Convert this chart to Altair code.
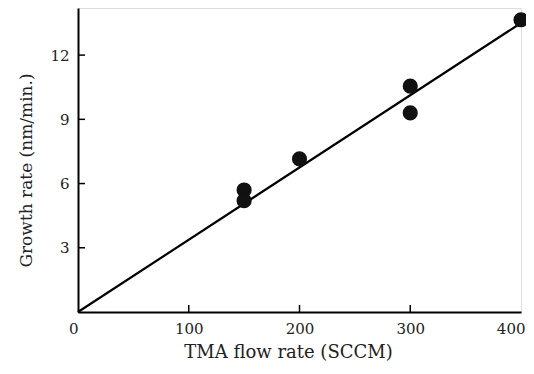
import altair as alt
import pandas as pd

# Data
flow = [150, 150, 200, 300, 300, 400]
growth = [5.7, 5.2, 7.15, 10.55, 9.3, 13.65]

fit_x = [0, 400]
fit_y = [0, 13.5]

x_ticks = [0, 100, 200, 300, 400]
y_ticks = [3, 6, 9, 12]

pts = pd.DataFrame({"flow": flow, "growth": growth})
fit = pd.DataFrame({"flow": fit_x, "growth": fit_y})
xt = pd.DataFrame({"v": [100, 200, 300]})
yt = pd.DataFrame({"v": y_ticks})

W, H = 443, 304
FONT = "DejaVu Serif"

xscale = alt.Scale(domain=[0, 400], nice=False)
yscale = alt.Scale(domain=[0, 14.2], nice=False)

xaxis = alt.Axis(
    values=x_ticks, ticks=False, grid=False, domainColor="black", domainWidth=2,
    labelFont=FONT, labelFontSize=15, labelColor="#222", labelPadding=9,
    labelAlign=alt.ExprRef("datum.value == 0 || datum.value == 400 ? 'right' : 'center'"),
    labelOffset=alt.ExprRef("datum.value == 400 ? 4 : 0"),
    title="TMA flow rate (SCCM)", titleFont=FONT, titleFontSize=18,
    titleFontWeight="normal", titleColor="#222", titlePadding=7, titleX=210,
)
yaxis = alt.Axis(
    values=y_ticks, ticks=False, grid=False, domainColor="black", domainWidth=2,
    labelFont=FONT, labelFontSize=15, labelColor="#222", labelPadding=9,
    title="Growth rate (nm/min.)", titleFont=FONT, titleFontSize=17,
    titleFontWeight="normal", titleColor="#222", titlePadding=14, titleY=162,
)

line = alt.Chart(fit).mark_line(color="black", strokeWidth=2.2).encode(
    x=alt.X("flow:Q", scale=xscale, axis=xaxis),
    y=alt.Y("growth:Q", scale=yscale, axis=yaxis),
)

dots = alt.Chart(pts).mark_circle(color="#111", opacity=1, size=230).encode(
    x=alt.X("flow:Q", scale=xscale),
    y=alt.Y("growth:Q", scale=yscale),
)

xtick_marks = alt.Chart(xt).mark_rule(color="black", strokeWidth=1.5).encode(
    x=alt.X("v:Q", scale=xscale),
    y=alt.value(H),
    y2=alt.value(H - 7),
)
ytick_marks = alt.Chart(yt).mark_rule(color="black", strokeWidth=1.5).encode(
    y=alt.Y("v:Q", scale=yscale),
    x=alt.value(0),
    x2=alt.value(7),
)

chart = (
    alt.layer(line, xtick_marks, ytick_marks, dots)
    .properties(
        width=W,
        height=H,
        autosize=alt.AutoSizeParams(type="none"),
        padding={"left": 70, "top": 0, "right": 5, "bottom": 58},
    )
    .configure_view(stroke="black", strokeWidth=1.5)
    .configure(background="white")
)

chart.save("out.html", embed_options={"renderer": "svg", "actions": False})
